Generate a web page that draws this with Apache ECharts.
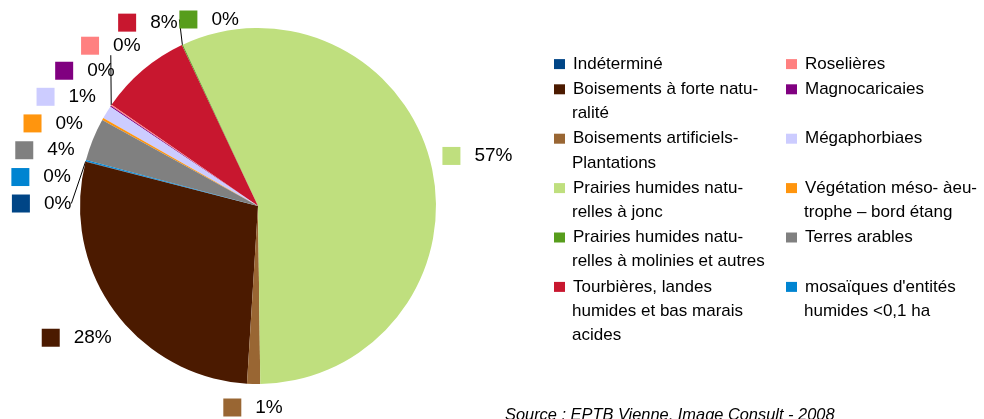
<!DOCTYPE html>
<html>
<head>
<meta charset="utf-8">
<script src="https://cdn.jsdelivr.net/npm/echarts@6/dist/echarts.min.js"></script>
<style>
  html, body { margin: 0; padding: 0; background: #fff; }
  #chart { width: 984px; height: 419px; }
</style>
</head>
<body>
<div id="chart"></div>
<script>
// categories in data order (counter-clockwise from the left edge)
var categories = [
  'Indéterminé',
  'Boisements à forte naturalité',
  'Boisements artificiels-Plantations',
  'Prairies humides naturelles à jonc',
  'Prairies humides naturelles à molinies et autres',
  'Tourbières, landes humides et bas marais acides',
  'Roselières',
  'Magnocaricaies',
  'Mégaphorbiaes',
  'Végétation méso- àeutrophe – bord étang',
  'Terres arables',
  "mosaïques d'entités humides <0,1 ha"
]
// share in %
var values = [0.05, 28.2, 1.2, 57.1, 0.1, 8.4, 0.1, 0.1, 1.2, 0.2, 3.9, 0.1]
// wrapped legend lines
var legendLines = [
  ['Indéterminé'],
  ['Boisements à forte natu-', 'ralité'],
  ['Boisements artificiels-', 'Plantations'],
  ['Prairies humides natu-', 'relles à jonc'],
  ['Prairies humides natu-', 'relles à molinies et autres'],
  ['Tourbières, landes', 'humides et bas marais', 'acides'],
  ['Roselières'],
  ['Magnocaricaies', ''],
  ['Mégaphorbiaes', ''],
  ['Végétation méso- àeu-', 'trophe – bord étang'],
  ['Terres arables', ''],
  ["mosaïques d'entités", 'humides <0,1 ha']
]
var colors = ['#004586', '#4b1a00', '#996633', '#bfdf7e', '#579d1c', '#c8172f',
  '#ff8080', '#800080', '#ccccff', '#ff950e', '#808080', '#0084d1']

var CX = 258, CY = 206, R = 178, START = 165.4

var myChart = echarts.init(document.getElementById('chart'))

// mid angle of each slice
var total = values.reduce(function (a, b) { return a + b }, 0)
var cur = START
var mids = values.map(function (v) {
  var span = v / total * 360
  var m = cur + span / 2
  cur += span
  return ((m % 360) + 360) % 360
})

// push crowded labels apart along the circle
var lab = mids.map(function (m, i) { return { i: i, a: m } })
lab.sort(function (p, q) { return p.a - q.a })
for (var it = 0; it < 400; it++) {
  for (var k = 1; k < lab.length; k++) {
    var p = lab[k - 1], q = lab[k]
    var phi = (p.a + q.a) / 2 * Math.PI / 180
    var req = Math.min(60 / (215 * Math.abs(Math.sin(phi))), 26 / (215 * Math.abs(Math.cos(phi)))) * 180 / Math.PI
    var d = q.a - p.a
    if (d < req) {
      p.a -= (req - d) / 2
      q.a += (req - d) / 2
    }
  }
}
var labelAngles = []
lab.forEach(function (l) { labelAngles[l.i] = l.a })

function nearestDist(d, c, s, w, h) {
  var nx = Math.max(Math.abs(d * c) - w / 2, 0)
  var ny = Math.max(Math.abs(d * s) - h / 2, 0)
  return Math.sqrt(nx * nx + ny * ny)
}

var legendRich = {
  t: { fontFamily: 'Liberation Sans', fontSize: 17, color: '#000', lineHeight: 24.2 },
  gap: { width: 8, height: 10 },
  ind: { width: 18, height: 10 }
}
var labelRich = {
  v: { fontFamily: 'Liberation Sans', fontSize: 19, color: '#000', padding: [0, 0, 0, 14] }
}
colors.forEach(function (c, i) {
  legendRich['s' + i] = { width: 11, height: 10, backgroundColor: c }
  labelRich['s' + i] = { width: 18, height: 18, backgroundColor: c }
})

function legendFormatter(name) {
  var i = categories.indexOf(name)
  return legendLines[i].map(function (l, k) {
    var head = k === 0 ? '{s' + i + '|}{gap|}' : '{ind|}'
    return head + '{t|' + (l || ' ') + '}'
  }).join('\n')
}

function makeLegend(left, names) {
  return {
    orient: 'vertical',
    left: left,
    top: 52,
    padding: 0,
    itemGap: 1,
    itemWidth: 0,
    itemHeight: 0,
    selectedMode: false,
    data: names,
    formatter: legendFormatter,
    textStyle: { rich: legendRich, lineHeight: 24.2 }
  }
}

var option = {
  animation: false,
  color: colors,
  title: {
    text: 'Source : EPTB Vienne, Image Consult - 2008',
    left: 505,
    top: 407,
    padding: 0,
    textStyle: {
      fontFamily: 'Liberation Sans',
      fontSize: 16.4,
      fontStyle: 'italic',
      fontWeight: 'normal',
      color: '#000'
    }
  },
  legend: [
    makeLegend(549, categories.slice(0, 6)),
    makeLegend(781, categories.slice(6))
  ],
  series: [
    {
      type: 'pie',
      center: [CX, CY],
      radius: R,
      startAngle: START,
      clockwise: false,
      avoidLabelOverlap: false,
      data: categories.map(function (name, i) {
        // leader line only where the label drifted far from its slice
        var far = Math.abs(labelAngles[i] - mids[i]) > 9.5
        return { name: name, value: values[i], labelLine: { show: far } }
      }),
      label: {
        position: 'outside',
        overflow: 'none',
        bleedMargin: 0,
        formatter: function (p) {
          return '{s' + p.dataIndex + '|}{v|' + Math.round(p.value) + '%}'
        },
        rich: labelRich
      },
      labelLine: {
        length: 10,
        length2: 0,
        lineStyle: { color: '#000', width: 1 }
      },
      labelLayout: function (p) {
        var ang = labelAngles[p.dataIndex] * Math.PI / 180
        var c = Math.cos(ang), s = Math.sin(ang)
        var w = p.labelRect.width, h = p.labelRect.height
        var gap = 8 + 6 * Math.sqrt(Math.abs(s))
        // find distance where the label box sits just outside the pie
        var lo = R - 50, hi = R + 150
        for (var n = 0; n < 40; n++) {
          var mid = (lo + hi) / 2
          if (nearestDist(mid, c, s, w, h) < R + gap) lo = mid
          else hi = mid
        }
        var y = CY - hi * s
        y = Math.max(y, 10 + h / 2)
        return {
          x: CX + hi * c,
          y: y,
          align: 'center',
          verticalAlign: 'middle'
        }
      }
    }
  ]
}
myChart.setOption(option)
</script>
</body>
</html>
